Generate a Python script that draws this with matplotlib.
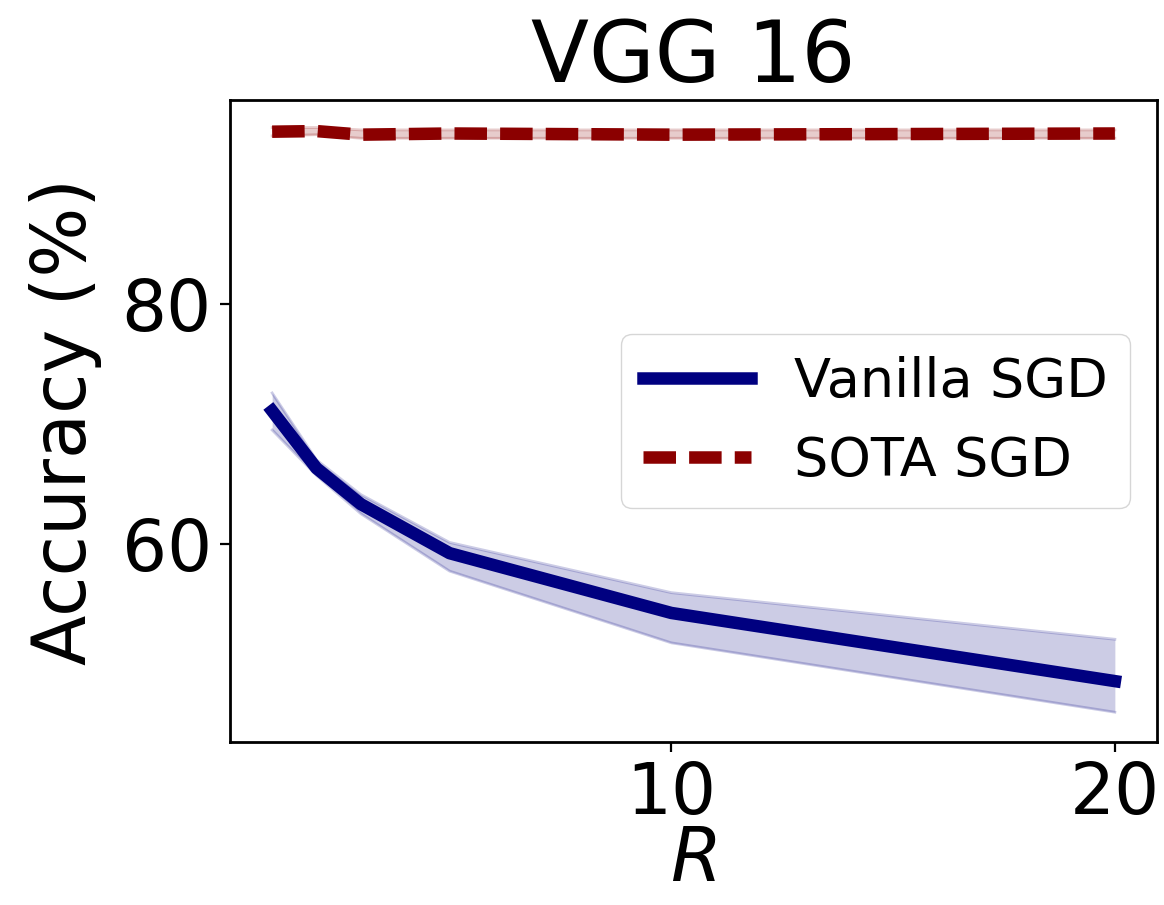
import matplotlib
matplotlib.use("Agg")
import matplotlib.pyplot as plt
import numpy as np

# Data
r_values = [1, 2, 3, 5, 10, 20]

vanilla_mean = [71.1, 66.3, 63.3, 59.2, 54.2, 48.5]
vanilla_upper = [72.6, 67.0, 64.1, 60.1, 55.9, 52.0]
vanilla_lower = [69.5, 65.7, 62.5, 57.7, 51.7, 45.9]

sota_mean = [94.45, 94.5, 94.2, 94.3, 94.2, 94.3]
sota_upper = [94.8, 94.8, 94.6, 94.6, 94.6, 94.6]
sota_lower = [94.1, 94.2, 93.9, 93.9, 93.9, 93.9]


def main():
    fig = plt.figure(figsize=(11.64, 9.05), dpi=100)
    ax = fig.add_axes([0.1976, 0.180, 0.7964, 0.7095])

    x = np.array(r_values)

    # Vanilla SGD with spread band
    ax.fill_between(x, vanilla_lower, vanilla_upper, color="navy", alpha=0.2, lw=0)
    ax.plot(x, vanilla_upper, color="navy", alpha=0.2, lw=2)
    ax.plot(x, vanilla_lower, color="navy", alpha=0.2, lw=2)
    ax.plot(x, vanilla_mean, color="navy", lw=9, label="Vanilla SGD")

    # SOTA SGD with spread band
    ax.fill_between(x, sota_lower, sota_upper, color="darkred", alpha=0.2, lw=0)
    ax.plot(x, sota_upper, color="darkred", alpha=0.2, lw=2)
    ax.plot(x, sota_lower, color="darkred", alpha=0.2, lw=2)
    ax.plot(x, sota_mean, color="darkred", lw=9, linestyle=(0, (2.6, 1.05)),
            label="SOTA SGD")

    ax.set_xlim(0.05, 20.95)
    ax.set_ylim(43.4, 97.1)
    ax.set_xticks([10, 20])
    ax.set_yticks([60, 80])

    ax.tick_params(labelsize=51, length=7, width=1.6, pad=6)
    for spine in ax.spines.values():
        spine.set_linewidth(2)

    ax.set_title("VGG 16", fontsize=61, pad=13)
    ax.set_ylabel("Accuracy (%)", fontsize=53, labelpad=14)
    ax.set_xlabel("$R$", fontsize=53, labelpad=-4)

    ax.legend(loc="center right", fontsize=39)

    fig.savefig("out.png", dpi=100, facecolor="white")
    plt.close(fig)


if __name__ == "__main__":
    main()
